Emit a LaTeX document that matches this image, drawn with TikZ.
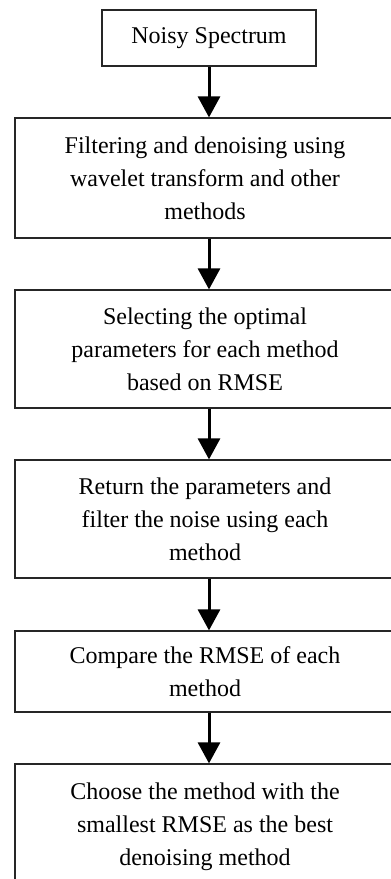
\documentclass[tikz,border=0pt]{standalone}
\usepackage{fontspec}
\setmainfont{Liberation Serif}
\usetikzlibrary{arrows.meta}
\begin{document}
\begin{tikzpicture}[x=1pt,y=-1pt,
  box/.style={draw=black!85, line width=1.2pt, fill=white, align=center,
    inner sep=0pt, font=\fontsize{24}{33}\selectfont},
  wide/.style={box, minimum width=380pt},
  arr/.style={line width=3pt, -{Triangle[width=22pt,length=21pt]}}]
\useasboundingbox (0,0) rectangle (391,879);
\clip (0,0) rectangle (391,879);
\node[box, minimum width=214pt, minimum height=56pt] (b1) at (209,38) {Noisy Spectrum};
\node[wide, minimum height=120pt] (b2) at (205,178)
  {Filtering and denoising using\\ wavelet transform and other\\ methods};
\node[wide, minimum height=118pt] (b3) at (205,349)
  {Selecting the optimal\\ parameters for each method\\ based on RMSE};
\node[wide, minimum height=118pt] (b4) at (205,519)
  {Return the parameters and\\ filter the noise using each\\ method};
\node[wide, minimum height=81pt] (b5) at (205,671.5)
  {Compare the RMSE of each\\ method};
\node[wide, minimum height=126pt] (b6) at (205,827)
  {Choose the method with the\\ smallest RMSE as the best\\ denoising method};
\draw[arr] (b1.south) -- (b1.south |- b2.north);
\draw[arr] (b1.south |- b2.south) -- (b1.south |- b3.north);
\draw[arr] (b1.south |- b3.south) -- (b1.south |- b4.north);
\draw[arr] (b1.south |- b4.south) -- (b1.south |- b5.north);
\draw[arr] (b1.south |- b5.south) -- (b1.south |- b6.north);
\end{tikzpicture}
\end{document}
